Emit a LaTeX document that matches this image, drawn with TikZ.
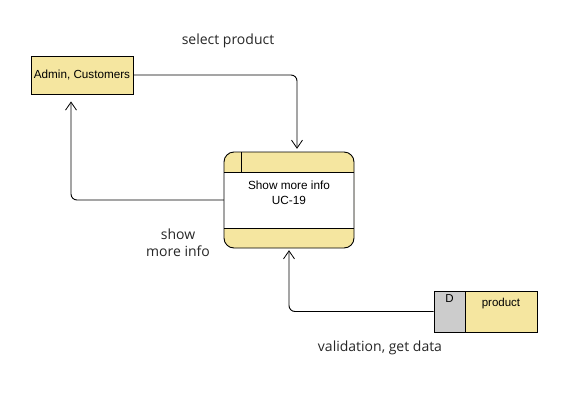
\documentclass[tikz,border=0pt]{standalone}
\usepackage{fontspec}
\setmainfont{Liberation Sans}
\newfontfamily\labelfont{Open Sans}
\usetikzlibrary{arrows.meta}
\definecolor{boxyellow}{RGB}{245,230,160}
\definecolor{boxgray}{RGB}{204,204,204}
\tikzset{
  entity/.style={draw=black, fill=boxyellow, line width=0.9pt, minimum width=102pt, minimum height=38pt, inner sep=0pt, font=\fontsize{11.7}{13}\selectfont},
  storeid/.style={draw=black, fill=boxgray, line width=0.9pt, minimum width=31pt, minimum height=41pt, inner sep=0pt},
  storename/.style={draw=black, fill=boxyellow, line width=0.9pt, minimum width=72pt, minimum height=41pt, inner sep=0pt},
  flow/.style={line width=0.9pt, rounded corners=6pt, -{Straight Barb[length=8pt,width=11pt,line width=0.8pt]}},
  lbl/.style={font=\labelfont\fontsize{14}{17}\selectfont, text=black!85, align=center},
  proctext/.style={font=\fontsize{11.8}{15}\selectfont, align=center},
  small/.style={font=\fontsize{11.5}{13}\selectfont}
}
\begin{document}
\begin{tikzpicture}[x=1pt,y=-1pt]
\useasboundingbox (0,0) rectangle (570,402);
% external entity
\node[entity] (admin) at (82,75) {Admin, Customers};
% process
\node[minimum width=130pt, minimum height=96pt, inner sep=0pt] (proc) at (289,200) {};
\fill[boxyellow, rounded corners=10pt] (224,152) rectangle (354,248);
\fill[white] (224,172) rectangle (354,228);
\draw[line width=0.9pt] (224,172) -- (354,172);
\draw[line width=0.9pt] (224,228) -- (354,228);
\draw[line width=0.9pt] (241,152) -- (241,172);
\draw[line width=0.9pt, rounded corners=10pt] (224,152) rectangle (354,248);
\node[proctext] (proctxt) at (289,192.5) {Show more info\\UC-19};
% data store
\node[storeid] (storeD) at (449.5,311.5) {};
\node[small] (dlbl) at (449.5,299) {D};
\node[storename] (store) at (501,311.5) {};
\node[small] (storelbl) at (501,304) {product};
% flows
\draw[flow] (admin.east) -| ([xshift=8pt,yshift=3pt]proc.north);
\draw[flow] (proc.west) -| ([xshift=-11pt,yshift=-7pt]admin.south);
\draw[flow] (storeD.west) -| ([yshift=-2pt]proc.south);
% labels
\node[lbl] (l1) at (228,41) {select product};
\node[lbl] (l2) at (178,242.5) {show\\more info};
\node[lbl] (l3) at (380,348) {validation, get data};
\end{tikzpicture}
\end{document}
